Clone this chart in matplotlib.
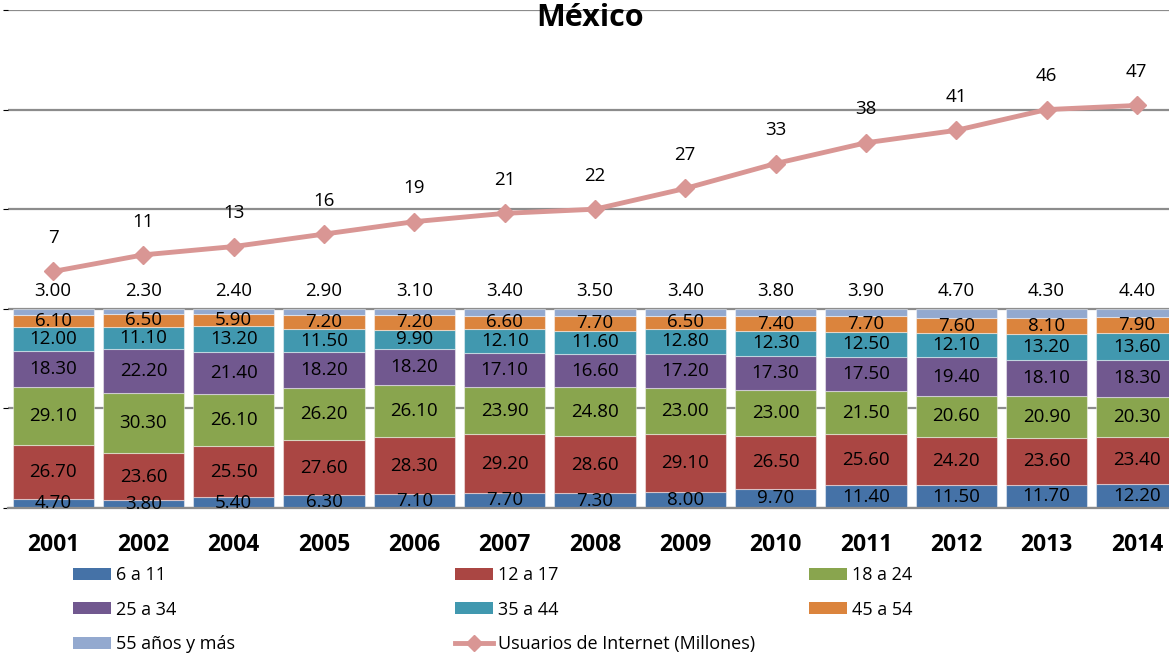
import numpy as np
import matplotlib
matplotlib.use("Agg")
import matplotlib.pyplot as plt
from matplotlib.patches import Patch
from matplotlib.lines import Line2D

plt.rcParams['font.family'] = ['Open Sans', 'DejaVu Sans']

# data
years = ['2001', '2002', '2004', '2005', '2006', '2007', '2008',
         '2009', '2010', '2011', '2012', '2013', '2014']
age_6_11 = [4.7, 3.8, 5.4, 6.3, 7.1, 7.7, 7.3, 8.0, 9.7, 11.4, 11.5, 11.7, 12.2]
age_12_17 = [26.7, 23.6, 25.5, 27.6, 28.3, 29.2, 28.6, 29.1, 26.5, 25.6, 24.2, 23.6, 23.4]
age_18_24 = [29.1, 30.3, 26.1, 26.2, 26.1, 23.9, 24.8, 23.0, 23.0, 21.5, 20.6, 20.9, 20.3]
age_25_34 = [18.3, 22.2, 21.4, 18.2, 18.2, 17.1, 16.6, 17.2, 17.3, 17.5, 19.4, 18.1, 18.3]
age_35_44 = [12.0, 11.1, 13.2, 11.5, 9.9, 12.1, 11.6, 12.8, 12.3, 12.5, 12.1, 13.2, 13.6]
age_45_54 = [6.1, 6.5, 5.9, 7.2, 7.2, 6.6, 7.7, 6.5, 7.4, 7.7, 7.6, 8.1, 7.9]
age_55 = [3.0, 2.3, 2.4, 2.9, 3.1, 3.4, 3.5, 3.4, 3.8, 3.9, 4.7, 4.3, 4.4]
usuarios = [7, 11, 13, 16, 19, 21, 22, 27, 33, 38, 41, 46, 47]

series = [
    ('6 a 11', age_6_11, '#4572A7'),
    ('12 a 17', age_12_17, '#AA4643'),
    ('18 a 24', age_18_24, '#89A54E'),
    ('25 a 34', age_25_34, '#71588F'),
    ('35 a 44', age_35_44, '#4198AF'),
    ('45 a 54', age_45_54, '#DB843D'),
    ('55 años y más', age_55, '#93A9CF'),
]
line_color = '#D99694'

fig = plt.figure(figsize=(11.69, 6.56), dpi=100)
ax = fig.add_axes([8 / 1169, 1 - 508 / 656, 1174 / 1169, 498 / 656])

x = np.arange(len(years))
bottom = np.zeros(len(years))
handles = {}
for name, vals, col in series:
    vals = np.array(vals)
    ax.bar(x, vals, 0.9, bottom=bottom, color=col,
           edgecolor=(1, 1, 1, 0.45), linewidth=0.8, zorder=2)
    handles[name] = Patch(facecolor=col)
    if name == '55 años y más':
        # top segment is labelled above the bar
        for i, v in enumerate(vals):
            ax.annotate(f'{v:.2f}', (x[i], bottom[i] + v), xytext=(0, 13),
                        textcoords='offset points', ha='center', va='center',
                        fontsize=13.5, zorder=5)
    else:
        for i, v in enumerate(vals):
            ax.text(x[i], bottom[i] + v / 2, f'{v:.2f}', ha='center',
                    va='center', fontsize=13.5, zorder=5)
    bottom += vals

ax.set_ylim(0, 250)
ax.set_yticks([0, 50, 100, 150, 200, 250])
ax.yaxis.grid(True, color='#8c8c8c', linewidth=1.6, zorder=0)
ax.set_axisbelow(True)
ax.tick_params(axis='y', left=False, labelleft=False)
ax.set_xlim(-0.5, len(years) - 0.5)
ax.set_xticks(x)
ax.set_xticklabels(years, fontsize=16.5, fontweight='bold')
ax.tick_params(axis='x', length=0, pad=18)
for s in ['left', 'right', 'top']:
    ax.spines[s].set_visible(False)
ax.spines['bottom'].set_color('#8c8c8c')
ax.spines['bottom'].set_linewidth(1.6)

ax2 = ax.twinx()
ax2.plot(x, usuarios, color=line_color, linewidth=3.5, marker='D',
         markersize=9, zorder=4)
for i, v in enumerate(usuarios):
    ax2.annotate(str(v), (x[i], v), xytext=(0, 24), textcoords='offset points',
                 ha='center', va='center', fontsize=13.5)
ax2.set_ylim(-50, 70)
ax2.set_yticks([])
for s in ax2.spines.values():
    s.set_visible(False)

fig.text(590 / 1169, 1 - 18 / 656, 'México', ha='center', va='center',
         fontsize=22, fontweight='bold')

line_handle = Line2D([], [], color=line_color, linewidth=3.5, marker='D',
                     markersize=8)
columns = [
    (['6 a 11', '25 a 34', '55 años y más'], 73),
    (['12 a 17', '35 a 44', 'Usuarios de Internet (Millones)'], 455),
    (['18 a 24', '45 a 54'], 809),
]
for labels, xpos in columns:
    hs = [handles[l] if l in handles else line_handle for l in labels]
    fig.legend(hs, labels, loc='upper left',
               bbox_to_anchor=(xpos / 1169, 1 - 566 / 656),
               frameon=False, fontsize=13, handlelength=2.1,
               handleheight=0.65, handletextpad=0.3, labelspacing=0.92,
               borderpad=0, borderaxespad=0)

fig.savefig('out.png', dpi=100)
